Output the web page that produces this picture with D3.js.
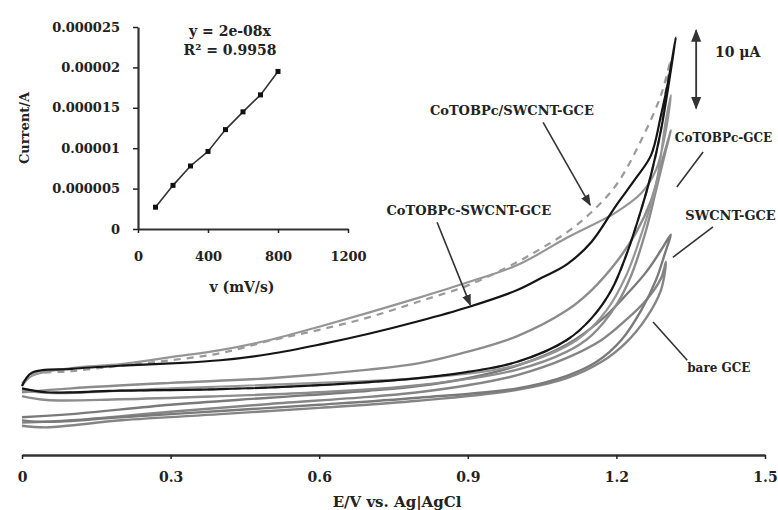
<!DOCTYPE html>
<html>
<head>
<meta charset="utf-8">
<script src="https://cdn.jsdelivr.net/npm/d3@7"></script>
<style>
  body { margin: 0; background: #fff; }
  text { font-family: "DejaVu Serif", "Liberation Serif", serif; font-weight: bold; fill: #222; }
</style>
</head>
<body>
<div id="chart"></div>
<script>
// cyclic voltammograms, [E (V), I (uA)], forward then reverse scan
const coSwcntAnalyteFwd = [[0,5.0],[0.02,6.7],[0.1,7.2],[0.2,7.6],[0.3,7.9],[0.4,8.3],[0.5,9.1],[0.6,10.3],[0.7,11.7],[0.8,13.3],[0.9,15.1],[1.0,17.3],[1.05,18.9],[1.1,20.6],[1.15,23.5],[1.2,28.2],[1.24,31.7],[1.27,34.6],[1.29,39.7],[1.305,44.2],[1.32,49.7]];
const coSwcntAnalyteRev = [[1.31,45.5],[1.29,37.8],[1.27,32.1],[1.25,27.6],[1.22,21.8],[1.19,17.3],[1.15,13.7],[1.1,10.9],[1.0,8.1],[0.9,6.8],[0.8,6.0],[0.6,5.1],[0.4,4.6],[0.2,4.4],[0.05,4.2],[0,4.7]];

const coSwcntDashedFwd = [[0,5.3],[0.02,6.4],[0.1,6.9],[0.2,7.6],[0.3,8.3],[0.4,9.2],[0.5,10.8],[0.6,12.2],[0.7,13.8],[0.8,15.8],[0.9,17.9],[1.0,20.9],[1.05,22.7],[1.1,24.7],[1.15,27.3],[1.2,30.8],[1.25,36.5],[1.29,42.3],[1.31,46.8]];
const coSwcntDashedRev = [[1.3,43.0],[1.29,37.8],[1.27,32.1],[1.25,27.6],[1.22,21.8],[1.19,17.3],[1.15,13.7],[1.1,10.9],[1.0,8.1],[0.9,6.8],[0.8,6.0],[0.6,5.1],[0.4,4.6],[0.2,4.4],[0.05,4.2],[0,4.7]];

const coSwcntFwd = [[0,5.0],[0.02,6.3],[0.1,7.3],[0.2,7.8],[0.3,8.7],[0.4,9.6],[0.5,10.9],[0.6,12.6],[0.7,14.4],[0.8,16.3],[0.9,18.3],[1.0,20.5],[1.1,24.0],[1.2,27.3],[1.25,29.7],[1.28,32.7],[1.3,37.8],[1.31,42.3]];
const coSwcntRev = [[1.3,39.1],[1.28,30.8],[1.25,24.4],[1.22,19.2],[1.18,14.7],[1.12,10.9],[1.0,7.7],[0.8,6.0],[0.6,5.4],[0.3,4.7],[0.05,4.1],[0,4.5]];

const coGceFwd = [[0,4.2],[0.1,4.7],[0.3,5.4],[0.5,6.0],[0.7,7.1],[0.8,7.9],[0.9,9.4],[1.0,11.4],[1.1,14.7],[1.15,17.3],[1.2,20.9],[1.24,24.7],[1.27,28.8],[1.29,33.3],[1.31,37.8]];
const coGceRev = [[1.3,35.3],[1.28,30.1],[1.26,25.0],[1.23,19.2],[1.2,15.4],[1.15,11.5],[1.1,9.4],[1.0,7.1],[0.8,5.1],[0.6,4.2],[0.4,3.7],[0.2,3.3],[0.05,3.2],[0,3.7]];

const swcntFwd = [[0,1.0],[0.1,1.4],[0.3,2.6],[0.5,3.5],[0.7,4.4],[0.8,5.0],[0.9,6.0],[1.0,7.6],[1.1,10.3],[1.17,13.5],[1.22,16.7],[1.26,19.6],[1.29,22.4],[1.31,24.4]];
const swcntRev = [[1.3,22.4],[1.28,18.6],[1.25,14.7],[1.21,10.9],[1.16,8.1],[1.1,6.3],[1.0,4.7],[0.8,3.5],[0.6,2.6],[0.4,1.8],[0.2,1.0],[0.05,0.4],[0,0.6]];

const bareFwd = [[0,0.3],[0.1,0.6],[0.3,1.7],[0.5,2.7],[0.7,3.6],[0.8,4.2],[0.9,5.1],[1.0,6.4],[1.1,8.6],[1.17,10.9],[1.22,13.5],[1.26,16.0],[1.29,18.8],[1.3,20.9]];
const bareRev = [[1.29,17.3],[1.26,13.7],[1.22,10.6],[1.17,8.1],[1.1,6.0],[1.0,4.5],[0.8,3.1],[0.6,2.2],[0.4,1.4],[0.2,0.6],[0.05,-0.3],[0,-0.1]];

const xTicks = [0, 0.3, 0.6, 0.9, 1.2, 1.5];
const xTickLabels = ["0", "0.3", "0.6", "0.9", "1.2", "1.5"];

// inset: peak current vs scan rate
const scanRate = [100, 200, 300, 400, 500, 600, 700, 800];
const peakCurrent = [2.7e-6, 5.4e-6, 7.8e-6, 9.6e-6, 12.3e-6, 14.5e-6, 16.6e-6, 19.5e-6];
const insetXTicks = [0, 400, 800, 1200];
const insetYTicks = [0, 0.000005, 0.00001, 0.000015, 0.00002, 0.000025];
const insetYLabels = ["0", "0.000005", "0.00001", "0.000015", "0.00002", "0.000025"];

const width = 778, height = 510;

const svg = d3.select("#chart").append("svg")
    .attr("width", width)
    .attr("height", height)
    .style("background", "#fff");

const defs = svg.append("defs");
defs.append("marker")
    .attr("id", "head")
    .attr("viewBox", "0 0 10 10")
    .attr("refX", 9).attr("refY", 5)
    .attr("markerWidth", 7).attr("markerHeight", 7)
    .attr("orient", "auto-start-reverse")
    .append("path")
    .attr("d", "M0,1 L10,5 L0,9 Z")
    .attr("fill", "#333");

// main scales
const x = d3.scaleLinear().domain([0, 1.5]).range([22, 765]);
const y = d3.scaleLinear().domain([0, 50]).range([425, 35]);

const line = d3.line()
    .x(d => x(d[0]))
    .y(d => y(d[1]))
    .curve(d3.curveCatmullRom.alpha(0.5));

const curves = [
    { fwd: bareFwd, rev: bareRev, color: "#858585", w: 2.4, dash: null },
    { fwd: swcntFwd, rev: swcntRev, color: "#7a7a7a", w: 2.4, dash: null },
    { fwd: coGceFwd, rev: coGceRev, color: "#8c8c8c", w: 2.4, dash: null },
    { fwd: coSwcntFwd, rev: coSwcntRev, color: "#959595", w: 2.2, dash: null },
    { fwd: coSwcntDashedFwd, rev: coSwcntDashedRev, color: "#9a9a9a", w: 2.2, dash: "7,6" },
    { fwd: coSwcntAnalyteFwd, rev: coSwcntAnalyteRev, color: "#151515", w: 2.2, dash: null }
];

svg.append("g").selectAll("path")
    .data(curves)
    .enter()
    .append("path")
    .attr("d", d => line(d.fwd.concat(d.rev)))
    .attr("fill", "none")
    .attr("stroke", d => d.color)
    .attr("stroke-width", d => d.w)
    .attr("stroke-dasharray", d => d.dash);

// x axis
const xAxis = d3.axisBottom(x)
    .tickValues(xTicks)
    .tickFormat((d, i) => xTickLabels[i])
    .tickSizeInner(4)
    .tickSizeOuter(0)
    .tickPadding(13);

const gx = svg.append("g")
    .attr("transform", "translate(0,455)")
    .call(xAxis);
gx.select(".domain").attr("stroke", "#333").attr("stroke-width", 2.6);
gx.selectAll(".tick line").attr("stroke", "#222").attr("stroke-width", 1.5);
gx.selectAll("text").style("font-size", "14px").attr("fill", "#222");

svg.append("text")
    .attr("x", 397)
    .attr("y", 507)
    .attr("text-anchor", "middle")
    .style("font-size", "15px")
    .text("E/V vs. Ag|AgCl");

// annotations (data coords)
function label(txt, e, i, anchor, size) {
    svg.append("text")
        .attr("x", x(e)).attr("y", y(i))
        .attr("text-anchor", anchor)
        .style("font-size", size + "px")
        .text(txt);
}
function pointer(e0, i0, e1, i1, arrow) {
    svg.append("line")
        .attr("x1", x(e0)).attr("y1", y(i0))
        .attr("x2", x(e1)).attr("y2", y(i1))
        .attr("stroke", "#333")
        .attr("stroke-width", 1.6)
        .attr("marker-end", arrow ? "url(#head)" : null);
}

label("CoTOBPc/SWCNT-GCE", 0.989, 39.7, "middle", 13);
pointer(1.052, 38.8, 1.147, 28.2, true);
label("CoTOBPc-SWCNT-GCE", 0.902, 26.9, "middle", 13);
pointer(0.838, 26.0, 0.905, 15.4, true);
label("CoTOBPc-GCE", 1.318, 36.3, "start", 12);
pointer(1.375, 35.0, 1.322, 30.5, false);
label("SWCNT-GCE", 1.339, 26.3, "start", 13);
pointer(1.395, 25.4, 1.314, 21.5, false);
label("bare GCE", 1.343, 6.8, "start", 12);
pointer(1.343, 8.3, 1.274, 13.2, false);

// 10 uA scale bar
svg.append("line")
    .attr("x1", x(1.361)).attr("y1", y(40.6))
    .attr("x2", x(1.361)).attr("y2", y(50.6))
    .attr("stroke", "#333")
    .attr("stroke-width", 1.8)
    .attr("marker-start", "url(#head)")
    .attr("marker-end", "url(#head)");
label("10 \u03bcA", 1.399, 47.2, "start", 14);

// inset
const ix = d3.scaleLinear().domain([0, 1200]).range([138, 348]);
const iy = d3.scaleLinear().domain([0, 0.000025]).range([229, 27]);

const ixAxis = d3.axisBottom(ix)
    .tickValues(insetXTicks)
    .tickFormat(d3.format("d"))
    .tickSizeInner(4)
    .tickSizeOuter(0)
    .tickPadding(19);
const iyAxis = d3.axisLeft(iy)
    .tickValues(insetYTicks)
    .tickFormat((d, i) => insetYLabels[i])
    .tickSizeInner(5)
    .tickSizeOuter(0)
    .tickPadding(13);

const gix = svg.append("g").attr("transform", "translate(0,229)").call(ixAxis);
const giy = svg.append("g").attr("transform", "translate(138,0)").call(iyAxis);
[gix, giy].forEach(g => {
    g.select(".domain").attr("stroke", "#333").attr("stroke-width", 2.2);
    g.selectAll(".tick line").attr("stroke", "#222").attr("stroke-width", 1.5);
    g.selectAll("text").style("font-size", "13px").attr("fill", "#222");
});

svg.append("text")
    .attr("transform", "translate(29,128) rotate(-90)")
    .attr("text-anchor", "middle")
    .style("font-size", "13px")
    .text("Current/A");

svg.append("text")
    .attr("x", 242).attr("y", 292)
    .attr("text-anchor", "middle")
    .style("font-size", "14px")
    .text("v (mV/s)");

const pts = scanRate.map((v, i) => [v, peakCurrent[i]]);
svg.append("path")
    .datum(pts)
    .attr("d", d3.line().x(d => ix(d[0])).y(d => iy(d[1])))
    .attr("fill", "none")
    .attr("stroke", "#333")
    .attr("stroke-width", 1.6);
svg.append("g").selectAll("rect")
    .data(pts)
    .enter()
    .append("rect")
    .attr("x", d => ix(d[0]) - 2.5)
    .attr("y", d => iy(d[1]) - 2.5)
    .attr("width", 5)
    .attr("height", 5)
    .attr("fill", "#111");

svg.append("text")
    .attr("x", 230).attr("y", 36)
    .attr("text-anchor", "middle")
    .style("font-size", "14px")
    .text("y = 2e-08x");
svg.append("text")
    .attr("x", 230).attr("y", 55)
    .attr("text-anchor", "middle")
    .style("font-size", "14px")
    .text("R\u00b2 = 0.9958");
</script>
</body>
</html>
